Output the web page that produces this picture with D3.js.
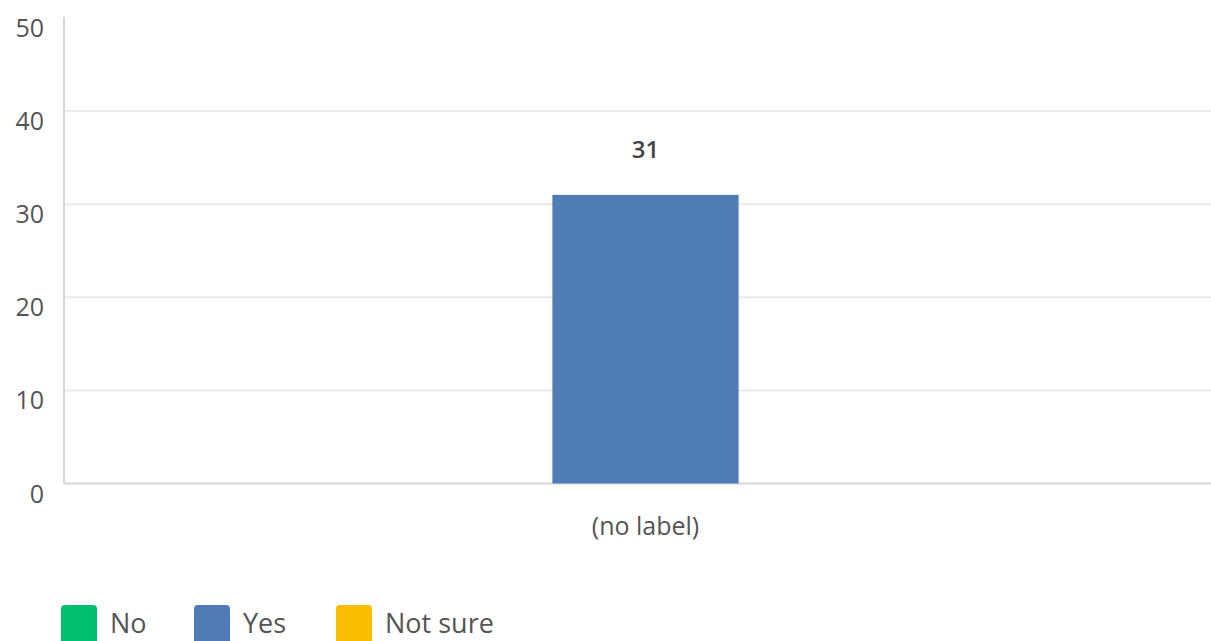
<!DOCTYPE html>
<html lang="en">
<head>
<meta charset="UTF-8">
<script src="https://cdn.jsdelivr.net/npm/d3@7"></script>
<style>
body { margin: 0; background: #fff; font-family: "Open Sans", Arial, sans-serif; }
.grid line { stroke: #ebebeb; stroke-width: 2px; }
.tick-label { fill: #555; font-size: 25px; }
.cat-label { fill: #555; font-size: 25px; }
.value-label { fill: #444; font-size: 24px; font-weight: 600; }
.legend-text { fill: #555; font-size: 27px; }
</style>
</head>
<body>
<svg id="chart" width="1211" height="641"></svg>
<script>
const categories = ["(no label)"];
const seriesNames = ["No", "Yes", "Not sure"];
const seriesColors = ["#00bf6f", "#507cb6", "#f9be00"];
const seriesValues = { "No": [0], "Yes": [31], "Not sure": [0] };
const yTicks = [0, 10, 20, 30, 40, 50];

const svg = d3.select("#chart");
const plotLeft = 64, plotRight = 1227, plotTop = 18, plotBottom = 483.5;

const y = d3.scaleLinear().domain([0, 50]).range([plotBottom, plotTop]);
const x0 = d3.scaleBand().domain(categories).range([plotLeft, plotRight]).padding(0.351);
const x1 = d3.scaleBand().domain(seriesNames).range([0, x0.bandwidth()]);
const color = d3.scaleOrdinal().domain(seriesNames).range(seriesColors);

// gridlines
svg.append("g").attr("class", "grid")
  .selectAll("line")
  .data(yTicks.filter(d => d > 0 && d < 50))
  .enter().append("line")
  .attr("x1", plotLeft).attr("x2", 1211)
  .attr("y1", d => y(d)).attr("y2", d => y(d));

// y axis line + baseline
svg.append("line")
  .attr("x1", plotLeft).attr("x2", plotLeft)
  .attr("y1", y(50) - 1).attr("y2", y(0))
  .attr("stroke", "#d6d6d6").attr("stroke-width", 2);
svg.append("line")
  .attr("x1", plotLeft).attr("x2", 1211)
  .attr("y1", y(0)).attr("y2", y(0))
  .attr("stroke", "#d6d6d6").attr("stroke-width", 2);

// tick labels
svg.selectAll(".tick-label")
  .data(yTicks)
  .enter().append("text")
  .attr("class", "tick-label")
  .attr("x", 44)
  .attr("y", d => y(d) + 19)
  .attr("text-anchor", "end")
  .text(d => d);

// bars
const rows = [];
categories.forEach((c, i) => {
  seriesNames.forEach(s => rows.push({ cat: c, series: s, value: seriesValues[s][i] }));
});

svg.selectAll(".bar")
  .data(rows.filter(d => d.value > 0))
  .enter().append("rect")
  .attr("class", "bar")
  .attr("x", d => x0(d.cat) + x1(d.series))
  .attr("y", d => y(d.value))
  .attr("width", x1.bandwidth())
  .attr("height", d => y(0) - y(d.value))
  .attr("fill", d => color(d.series));

svg.selectAll(".value-label")
  .data(rows.filter(d => d.value > 0))
  .enter().append("text")
  .attr("class", "value-label")
  .attr("x", d => x0(d.cat) + x1(d.series) + x1.bandwidth() / 2)
  .attr("y", d => y(d.value) - 37)
  .attr("text-anchor", "middle")
  .text(d => d.value);

// category label
svg.selectAll(".cat-label")
  .data(categories)
  .enter().append("text")
  .attr("class", "cat-label")
  .attr("x", d => x0(d) + x0.bandwidth() / 2)
  .attr("y", 535)
  .attr("text-anchor", "middle")
  .text(d => d);

// legend
const legendX = [61, 194, 336];
const legend = svg.selectAll(".legend")
  .data(seriesNames)
  .enter().append("g")
  .attr("transform", (d, i) => `translate(${legendX[i]},605)`);
legend.append("rect")
  .attr("width", 36).attr("height", 40)
  .attr("rx", 4)
  .attr("fill", d => color(d));
legend.append("text")
  .attr("class", "legend-text")
  .attr("x", 49).attr("y", 28)
  .text(d => d);
</script>
</body>
</html>
